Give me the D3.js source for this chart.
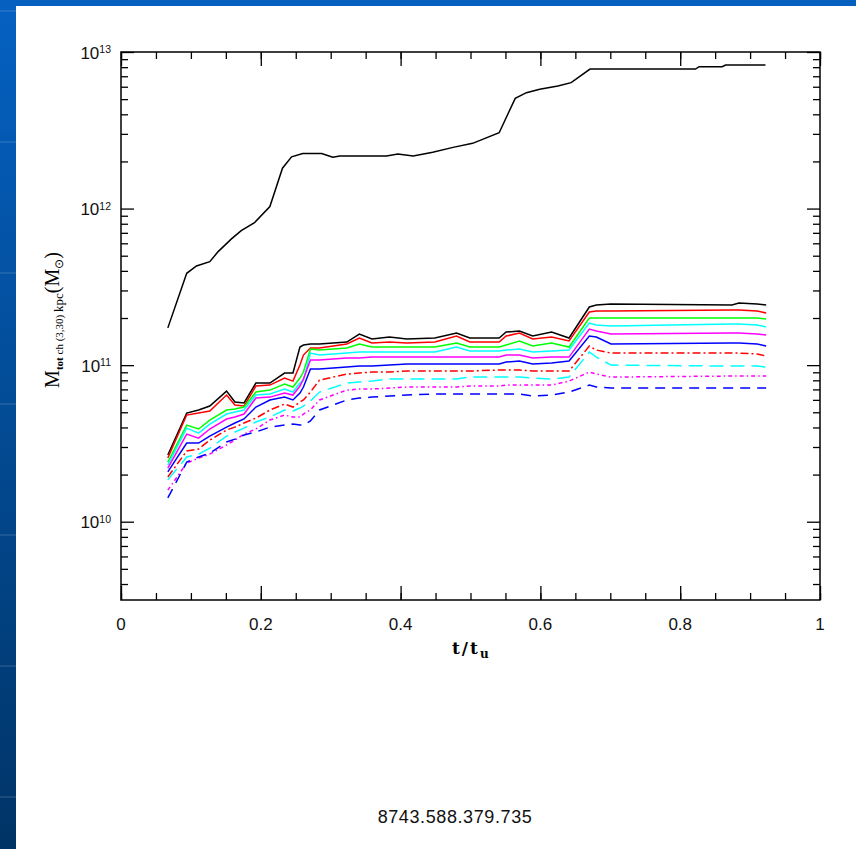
<!DOCTYPE html>
<html><head><meta charset="utf-8">
<script src="https://cdn.jsdelivr.net/npm/d3@7"></script>
<style>html,body{margin:0;padding:0;background:#fff;overflow:hidden}svg{display:block}</style>
</head><body><svg id="c" width="856" height="849"></svg>
<script>
// ---- data (masses in units of 1e10 Msun) ----
const tTop = [0.067,0.094,0.108,0.127,0.139,0.158,0.172,0.191,0.213,0.231,0.244,0.260,0.287,0.303,0.313,0.380,0.396,0.418,0.446,0.475,0.503,0.541,0.564,0.580,0.599,0.625,0.644,0.671,0.822,0.827,0.860,0.865,0.922];
const mTop = [17.3,38.6,43.0,45.8,53.1,64.0,72.3,81.3,103,181,214,225,225,213,217,217,223,217,229,246,261,305,506,550,578,607,637,778,778,805,805,826,826];

const tBundle = [0.067,0.094,0.111,0.127,0.151,0.163,0.176,0.193,0.213,0.234,0.246,0.256,0.261,0.271,0.284,0.323,0.341,0.359,0.384,0.409,0.449,0.480,0.499,0.541,0.551,0.570,0.589,0.616,0.641,0.670,0.680,0.701,0.874,0.884,0.910,0.923];
const mBlack   = [2.67,4.94,5.17,5.48,6.83,5.81,5.73,7.68,7.68,8.90,8.90,13.05,13.44,13.64,13.64,14.05,15.80,14.68,15.12,14.68,14.90,16.03,14.90,14.90,16.27,16.52,15.34,16.27,14.90,23.51,24.21,24.57,24.21,24.93,24.57,24.21];
const mRed     = [2.55,4.80,4.94,5.09,6.44,5.56,5.48,7.35,7.46,8.27,7.91,10.01,11.60,12.86,12.86,13.64,14.90,13.84,14.05,13.84,14.05,15.34,14.05,14.05,15.34,16.03,14.68,15.12,14.26,21.84,22.16,22.16,22.49,22.49,22.16,21.52];
const mGreen   = [2.40,4.14,3.91,4.46,5.17,5.24,5.40,6.73,6.93,7.57,7.25,8.27,9.04,12.67,12.49,12.86,13.64,13.05,13.05,13.05,13.05,13.84,13.05,13.05,13.44,14.26,13.24,13.84,13.05,19.98,19.98,19.98,19.98,19.98,19.98,19.70];
const mCyan    = [2.30,3.96,3.68,4.20,4.87,5.02,5.17,6.44,6.54,7.04,6.73,7.68,8.03,11.94,11.60,11.94,12.13,12.13,12.13,12.13,12.13,13.05,12.31,12.31,12.49,12.67,12.13,12.31,12.49,18.57,18.04,17.78,18.31,18.31,18.04,17.52];
const mMagenta = [2.20,3.63,3.42,3.91,4.53,4.66,4.87,6.16,6.25,6.63,6.44,7.35,8.15,10.78,10.78,11.10,11.10,11.26,11.26,11.26,11.26,11.26,11.26,11.26,11.60,11.60,11.10,11.26,11.26,17.01,16.52,15.80,16.03,16.03,15.80,15.57];
const mBlue    = [2.08,3.18,3.18,3.52,4.02,4.27,4.53,5.40,5.99,6.25,5.99,6.63,7.25,9.44,9.44,9.72,9.86,9.86,10.01,10.16,10.16,10.16,10.16,10.16,10.47,10.62,10.16,10.31,10.62,15.34,15.12,13.64,13.84,13.84,13.64,13.24];
const mRedDD   = [1.93,2.83,2.91,3.32,3.85,4.02,4.27,4.59,5.17,5.64,5.40,5.81,5.99,6.73,8.03,8.77,8.90,9.04,9.04,9.17,9.17,9.17,9.17,9.31,9.31,9.31,9.17,9.17,9.17,13.24,12.49,11.94,11.94,11.94,11.77,11.43];
const mCyanD   = [1.85,2.59,2.70,2.95,3.52,3.74,3.96,4.33,4.66,5.17,5.09,5.32,5.48,5.90,6.73,7.68,7.80,7.91,8.15,8.15,8.15,8.15,8.39,8.39,8.39,8.39,8.27,8.15,8.39,12.13,11.26,10.01,9.86,9.86,9.86,9.72];
const mMagD    = [1.59,2.37,2.55,2.70,3.09,3.32,3.63,3.91,4.46,4.80,4.66,4.66,4.87,5.17,5.99,6.93,7.04,7.04,7.14,7.25,7.25,7.25,7.35,7.35,7.46,7.46,7.46,7.46,7.91,9.04,8.77,8.39,8.52,8.52,8.52,8.52];
const mBlueD   = [1.42,2.40,2.59,2.74,3.23,3.37,3.58,3.74,4.02,4.14,4.20,4.14,4.14,4.40,5.17,5.99,6.16,6.25,6.35,6.44,6.54,6.54,6.54,6.54,6.54,6.54,6.35,6.44,6.73,7.46,7.25,7.14,7.14,7.14,7.14,7.14];

const xTickValues = [0,0.2,0.4,0.6,0.8,1];
const xTickLabels = ["0","0.2","0.4","0.6","0.8","1"];
const yTickExps = [10,11,12,13];
const footerText = "8743.588.379.735";

// ---- styles ----
const bundle = [
  {m:mBlack,   c:"#000000", d:null},
  {m:mRed,     c:"#ff0000", d:null},
  {m:mGreen,   c:"#00ff00", d:null},
  {m:mCyan,    c:"#00ffff", d:null},
  {m:mMagenta, c:"#ff00ff", d:null},
  {m:mBlue,    c:"#0000ff", d:null},
  {m:mRedDD,   c:"#ff0000", d:"8,3,2,3"},
  {m:mCyanD,   c:"#00ffff", d:"14,7"},
  {m:mMagD,    c:"#ff00ff", d:"4,3,1.5,3"},
  {m:mBlueD,   c:"#0000ff", d:"10,7"}
];

const svg = d3.select("#c");
const W = 856, H = 849;
const L = 121, R = 820, T = 52, B = 600;

// background decoration
const defs = svg.append("defs");
const g1 = defs.append("linearGradient").attr("id","strip").attr("x1",0).attr("y1",0).attr("x2",0).attr("y2",1);
g1.append("stop").attr("offset","0%").attr("stop-color","#0561c2");
g1.append("stop").attr("offset","100%").attr("stop-color","#003466");
svg.append("rect").attr("width",W).attr("height",H).attr("fill","#ffffff");
svg.append("rect").attr("x",0).attr("y",0).attr("width",16).attr("height",H).attr("fill","url(#strip)");
svg.append("rect").attr("x",0).attr("y",0).attr("width",W).attr("height",6).attr("fill","#0560c0");
[10,141,272,403,534,665,796].forEach(yy=>{
  svg.append("rect").attr("x",0).attr("y",yy).attr("width",16).attr("height",2).attr("fill","rgba(255,255,255,0.10)");
});

const x = d3.scaleLinear().domain([0,1]).range([L,R]);
const y = d3.scaleLog().domain([Math.pow(10,9.5),1e13]).range([B,T]);

// ticks
const xMinor = d3.range(0,21).map(i=>i*0.05);
const yMinor = [];
for (let e=9;e<=12;e++) for (let k=2;k<=9;k++){ const v=k*Math.pow(10,e); if(v>=y.domain()[0] && v<=1e13) yMinor.push(v); }
const yMajor = yTickExps.map(e=>Math.pow(10,e));

function styleAxis(g){ g.select(".domain").remove(); g.selectAll("line").attr("stroke","#000").attr("stroke-width",1.3); g.selectAll("text").remove(); }

svg.append("g").attr("transform",`translate(0,${B})`).call(d3.axisBottom(x).tickValues(xMinor).tickSize(-7)).call(styleAxis);
svg.append("g").attr("transform",`translate(0,${B})`).call(d3.axisBottom(x).tickValues(xTickValues).tickSize(-14)).call(styleAxis);
svg.append("g").attr("transform",`translate(0,${T})`).call(d3.axisTop(x).tickValues(xMinor).tickSize(-7)).call(styleAxis);
svg.append("g").attr("transform",`translate(0,${T})`).call(d3.axisTop(x).tickValues(xTickValues).tickSize(-14)).call(styleAxis);
svg.append("g").attr("transform",`translate(${L},0)`).call(d3.axisLeft(y).tickValues(yMinor).tickSize(-7)).call(styleAxis);
svg.append("g").attr("transform",`translate(${L},0)`).call(d3.axisLeft(y).tickValues(yMajor).tickSize(-13)).call(styleAxis);
svg.append("g").attr("transform",`translate(${R},0)`).call(d3.axisRight(y).tickValues(yMinor).tickSize(-7)).call(styleAxis);
svg.append("g").attr("transform",`translate(${R},0)`).call(d3.axisRight(y).tickValues(yMajor).tickSize(-13)).call(styleAxis);

svg.append("rect").attr("x",L).attr("y",T).attr("width",R-L).attr("height",B-T)
  .attr("fill","none").attr("stroke","#000").attr("stroke-width",1.5);

// tick labels
svg.append("g").selectAll("text").data(xTickValues).join("text")
  .attr("x",d=>x(d)).attr("y",630).attr("text-anchor","middle")
  .attr("font-family","Liberation Sans, Arial, sans-serif").attr("font-size",17).attr("fill","#111")
  .text((d,i)=>xTickLabels[i]);

const yl = svg.append("g").selectAll("text").data(yTickExps).join("text")
  .attr("x",111).attr("y",d=>y(Math.pow(10,d))+6.5).attr("text-anchor","end")
  .attr("font-family","Liberation Sans, Arial, sans-serif").attr("font-size",17).attr("fill","#111");
yl.append("tspan").text("10");
yl.append("tspan").attr("font-size",10.5).attr("dy",-5.5).text(d=>String(d));

// axis titles
const xt = svg.append("text").attr("x",452).attr("y",654)
  .attr("font-family","DejaVu Serif, serif").attr("font-weight","bold").attr("font-size",17).attr("fill","#000");
xt.append("tspan").attr("letter-spacing","2").text("t/t");
xt.append("tspan").attr("font-size",12).attr("dy",4).text("u");

const yt = svg.append("text").attr("transform","translate(59,320) rotate(-90)")
  .attr("text-anchor","middle").attr("font-family","Liberation Serif, Times New Roman, serif").attr("font-size",20).attr("fill","#000");
yt.append("tspan").text("M");
yt.append("tspan").attr("font-size",11).attr("font-weight","bold").attr("dy",4).text("tot");
yt.append("tspan").attr("font-size",11).text(" ch (3,30) ");
yt.append("tspan").attr("font-size",13).text("kpc");
yt.append("tspan").attr("font-size",20).attr("dy",-4).text("(M");
yt.append("tspan").attr("font-size",12).attr("dy",4).text("⊙");
yt.append("tspan").attr("font-size",20).attr("dy",-4).text(")");

// lines
const line = d3.line().x(d=>x(d[0])).y(d=>y(d[1]*1e10));
const plot = svg.append("g");
plot.append("path").datum(tTop.map((t,i)=>[t,mTop[i]])).attr("d",line)
  .attr("fill","none").attr("stroke","#000").attr("stroke-width",1.5);
bundle.forEach(s=>{
  plot.append("path").datum(tBundle.map((t,i)=>[t,s.m[i]])).attr("d",line)
    .attr("fill","none").attr("stroke",s.c).attr("stroke-width",1.5)
    .attr("stroke-dasharray",s.d);
});

// footer
svg.append("text").attr("x",455).attr("y",823).attr("text-anchor","middle")
  .attr("font-family","Liberation Sans, Arial, sans-serif").attr("font-size",18).attr("letter-spacing","0.6")
  .attr("fill","#111").text(footerText);
</script>
</body></html>
